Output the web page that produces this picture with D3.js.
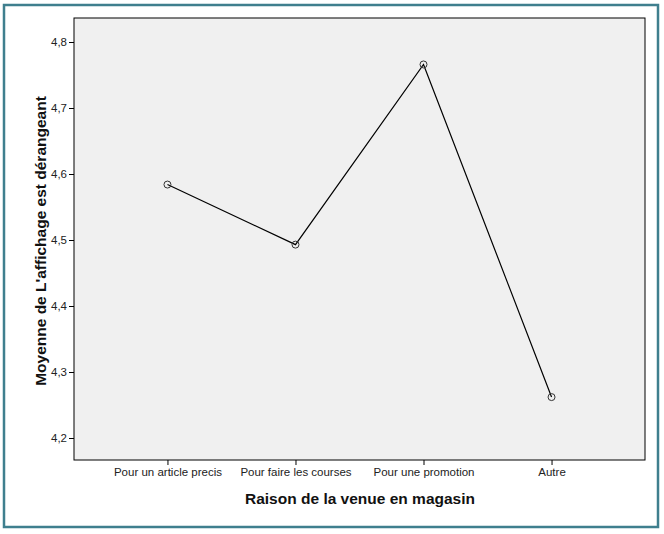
<!DOCTYPE html>
<html><head><meta charset="utf-8">
<script src="https://cdn.jsdelivr.net/npm/d3@7"></script>
<style>body{margin:0;background:#fff;}svg{display:block;font-family:"Liberation Sans",Arial,sans-serif;}</style>
</head><body><svg id="c" width="664" height="534"></svg>
<script>
const categories = ["Pour un article precis", "Pour faire les courses", "Pour une promotion", "Autre"];
const values = [4.584, 4.493, 4.766, 4.262];
const yTicks = [4.2, 4.3, 4.4, 4.5, 4.6, 4.7, 4.8];
const xTitle = "Raison de la venue en magasin";
const yTitle = "Moyenne de L'affichage est dérangeant";

const svg = d3.select("#c");
svg.append("rect").attr("x", 4).attr("y", 5).attr("width", 654).attr("height", 522)
  .attr("fill", "#fff").attr("stroke", "#3f7f8e").attr("stroke-width", 2.5);

const L = 74, T = 18, R = 645, B = 460;
const x = d3.scalePoint().domain(categories).range([L, R]).padding(0.73);
const y = d3.scaleLinear().domain([4.8 + 24/660, 4.8 - 418/660]).range([T, B]);

svg.append("rect").attr("x", L).attr("y", T).attr("width", R - L).attr("height", B - T)
  .attr("fill", "#f0f0f0").attr("stroke", "#000").attr("stroke-width", 1);

const fmt = d => d3.format(".1f")(d).replace(".", ",");
const ya = svg.append("g").attr("transform", `translate(${L},0)`)
  .call(d3.axisLeft(y).tickValues(yTicks).tickFormat(fmt).tickSize(5).tickPadding(2));
ya.select(".domain").remove();
ya.selectAll("text").attr("font-size", 11.5).attr("fill", "#222").attr("font-family", "Liberation Sans, Arial, sans-serif");

const xa = svg.append("g").attr("transform", `translate(0,${B})`)
  .call(d3.axisBottom(x).tickSize(5).tickPadding(3));
xa.select(".domain").remove();
xa.selectAll("text").attr("font-size", 11.5).attr("fill", "#222").attr("font-family", "Liberation Sans, Arial, sans-serif");

const line = d3.line().x((d, i) => x(categories[i])).y(d => y(d));
svg.append("path").datum(values).attr("d", line).attr("fill", "none").attr("stroke", "#000").attr("stroke-width", 1.2);
svg.selectAll("circle.pt").data(values).join("circle").attr("class", "pt")
  .attr("cx", (d, i) => x(categories[i])).attr("cy", d => y(d)).attr("r", 3.5)
  .attr("fill", "none").attr("stroke", "#333").attr("stroke-width", 1);

svg.append("text").attr("x", 360).attr("y", 504).attr("text-anchor", "middle")
  .attr("font-size", 15.5).attr("font-weight", "bold").attr("fill", "#111").text(xTitle);
svg.append("text").attr("transform", `translate(46,241) rotate(-90)`).attr("text-anchor", "middle")
  .attr("font-size", 15.5).attr("font-weight", "bold").attr("fill", "#111").text(yTitle);
</script></body></html>
